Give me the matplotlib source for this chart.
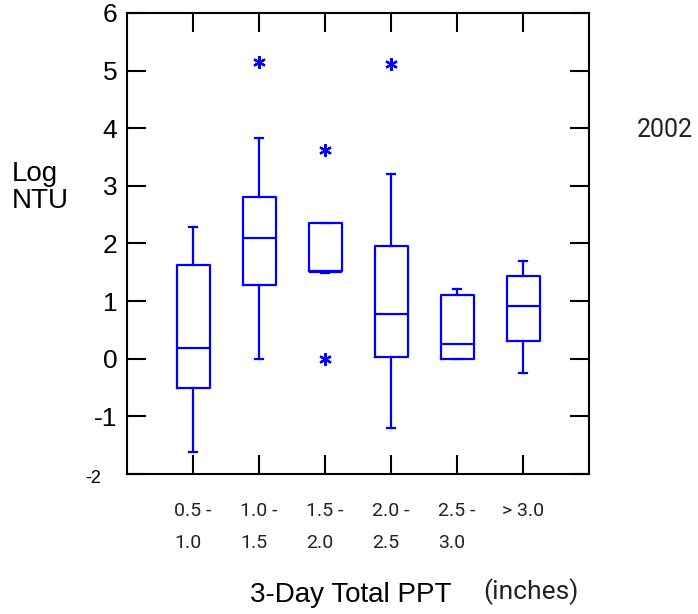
import matplotlib
matplotlib.use("Agg")
import matplotlib.pyplot as plt

# Precipitation bins
categories = ["0.5 -\n1.0", "1.0 -\n1.5", "1.5 -\n2.0", "2.0 -\n2.5", "2.5 -\n3.0", "> 3.0\n"]

# box statistics (Log NTU)
whislo = [-1.61, 0.00, 1.48, -1.21, 0.00, -0.24]
q1     = [-0.51, 1.28, 1.53,  0.03, 0.00,  0.31]
med    = [ 0.18, 2.09, 1.50,  0.78, 0.25,  0.91]
q3     = [ 1.63, 2.81, 2.36,  1.95, 1.11,  1.43]
whishi = [ 2.29, 3.83, 2.36,  3.20, 1.21,  1.70]
fliers = [[], [5.15], [3.62, 0.00], [5.11], [], []]

yticks = [-2, -1, 0, 1, 2, 3, 4, 5, 6]

blue = "#0000ff"
narrow = ["Roboto", "DejaVu Sans"]
plt.rcParams["font.family"] = ["Liberation Sans", "DejaVu Sans"]

fig = plt.figure(figsize=(6.98, 6.14), dpi=100)
ax = fig.add_axes([0.182, 0.228, 0.662, 0.751])

stats = []
for i in range(len(categories)):
    stats.append(dict(whislo=whislo[i], q1=q1[i], med=med[i], q3=q3[i],
                      whishi=whishi[i], fliers=fliers[i]))

line = dict(color=blue, linewidth=1.6)
ax.bxp(stats, positions=range(1, 7), widths=0.5, capwidths=0.13,
       boxprops=line, whiskerprops=line, capprops=line, medianprops=line,
       flierprops=dict(marker=(6, 2, 0), markersize=9, markeredgewidth=1.6,
                       markeredgecolor=blue, markerfacecolor=blue,
                       linestyle="none"),
       manage_ticks=False)

ax.set_xlim(0, 7)
ax.set_ylim(-2, 6)
ax.set_yticks(yticks)
# the lowest label is drawn smaller and further out in the original
ax.set_yticklabels([""] + [str(v) for v in yticks[1:]], fontsize=19)
ax.annotate(str(yticks[0]), xy=(0, yticks[0]), xycoords=("axes fraction", "data"),
            xytext=(-19, -3), textcoords="offset points", fontsize=13,
            ha="right", va="center")
ax.set_xticks(range(1, 7))
ax.set_xticklabels(categories, fontsize=14, family=narrow, linespacing=2.05,
                   multialignment="left", color="#222222")

ax.tick_params(direction="in", length=14, width=1.5, top=True, right=True,
               labelright=False, labeltop=False)
ax.tick_params(axis="y", pad=7)
ax.tick_params(axis="x", pad=20)
for s in ax.spines.values():
    s.set_linewidth(1.5)

fig.text(0.017, 0.695, "Log\nNTU", fontsize=20, ha="left", va="center",
         linespacing=1.05)
fig.text(0.912, 0.788, "2002", fontsize=18, family=narrow, ha="left", va="center",
         color="#222222")
fig.text(0.502, 0.031, "3-Day Total PPT", fontsize=20, ha="center", va="center")
fig.text(0.761, 0.036, "(inches)", fontsize=19, family=narrow, ha="center", va="center",
         color="#222222")

fig.savefig("out.png", dpi=100)
